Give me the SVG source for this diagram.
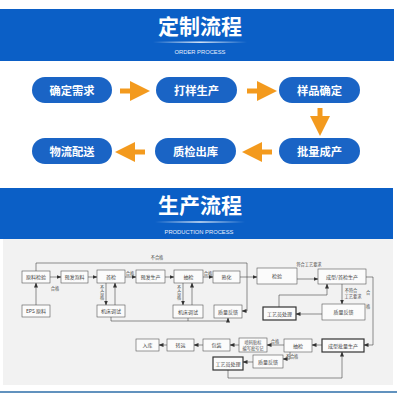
<svg xmlns="http://www.w3.org/2000/svg" width="400" height="400" viewBox="0 0 400 400">
<defs>
<linearGradient id="glow" x1="0" y1="0" x2="1" y2="0">
<stop offset="0" stop-color="#ffffff" stop-opacity="0"/>
<stop offset="0.5" stop-color="#ffffff" stop-opacity="0.9"/>
<stop offset="1" stop-color="#ffffff" stop-opacity="0"/>
</linearGradient>
<marker id="oa" viewBox="0 0 10 10" refX="5" refY="5" markerWidth="4" markerHeight="4" orient="auto"><path d="M0,0 L10,5 L0,10 z" fill="#f39a1e"/></marker>
<marker id="ka" viewBox="0 0 10 10" refX="9" refY="5" markerWidth="5" markerHeight="5" orient="auto" markerUnits="userSpaceOnUse"><path d="M0,1 L10,5 L0,9 z" fill="#333"/></marker>
<style>
.banner{fill:#0b5fc6}
.title{font-family:"Noto Sans CJK SC",sans-serif;font-weight:bold;font-size:21px;fill:#fff;text-anchor:middle}
.sub{font-family:"Liberation Sans",sans-serif;font-size:5.8px;fill:#e6eefc;text-anchor:middle}
.pill{fill:#1a64c5}
.pt{font-family:"Noto Sans CJK SC",sans-serif;font-weight:bold;font-size:11.3px;fill:#fff;text-anchor:middle}
.oarr{stroke:#f39a1e;stroke-width:5;fill:none;marker-end:url(#oa)}
.box{fill:#fbfbfb;stroke:#555;stroke-width:0.6}
.dbl{fill:#fbfbfb;stroke:#333;stroke-width:1.2}
.bt{font-family:"Noto Sans CJK SC",sans-serif;font-size:5px;fill:#444;text-anchor:middle}
.lb{font-family:"Noto Sans CJK SC",sans-serif;font-size:4.2px;fill:#444;text-anchor:middle}
.ln{stroke:#444;stroke-width:0.6;fill:none}
.la{stroke:#444;stroke-width:0.6;fill:none;marker-end:url(#ka)}
</style>
</defs>
<rect width="400" height="400" fill="#fff"/>

<g id="header-order">
<rect class="banner" x="0" y="9" width="394" height="52"/>
<text class="title" x="200" y="34">定制流程</text>
<rect x="153" y="41.5" width="94" height="1.4" fill="url(#glow)"/>
<text class="sub" x="200" y="54">ORDER PROCESS</text>
</g>

<g id="p1"><rect class="pill" x="32" y="77" width="80" height="26" rx="13"/><text class="pt" x="72" y="94.5">确定需求</text></g>
<g id="p2"><rect class="pill" x="156" y="77" width="81" height="26" rx="13"/><text class="pt" x="196.5" y="94.5">打样生产</text></g>
<g id="p3"><rect class="pill" x="279" y="77" width="81" height="26" rx="13"/><text class="pt" x="319.5" y="94.5">样品确定</text></g>
<g id="p4"><rect class="pill" x="279" y="138" width="81" height="26" rx="13"/><text class="pt" x="319.5" y="155.5">批量成产</text></g>
<g id="p5"><rect class="pill" x="155" y="138" width="81" height="26" rx="13"/><text class="pt" x="195.5" y="155.5">质检出库</text></g>
<g id="p6"><rect class="pill" x="32" y="138" width="80" height="26" rx="13"/><text class="pt" x="72" y="155.5">物流配送</text></g>

<g id="order-arrows">
<line class="oarr" x1="120" y1="91" x2="140" y2="91"/>
<line class="oarr" x1="247" y1="91" x2="267" y2="91"/>
<line class="oarr" x1="320" y1="108" x2="320" y2="126"/>
<line class="oarr" x1="272" y1="152" x2="252" y2="152"/>
<line class="oarr" x1="145" y1="152" x2="125" y2="152"/>
</g>

<g id="header-production">
<rect class="banner" x="0" y="188" width="393" height="51"/>
<text class="title" x="200" y="213">生产流程</text>
<rect x="155" y="221.3" width="90" height="1.4" fill="url(#glow)"/>
<text class="sub" x="199" y="234">PRODUCTION PROCESS</text>
</g>

<rect x="3" y="239" width="390" height="146" fill="#f2f2f2"/>
<line x1="0" y1="392" x2="397" y2="392" stroke="#2d6ea8" stroke-width="1.5"/>

<g id="connectors">
<path class="la" d="M36,305 V283"/>
<path class="la" d="M50,277 H61"/>
<path class="la" d="M88,277 H97"/>
<path class="la" d="M125,277 H136"/>
<path class="la" d="M106,283 V305"/>
<path class="la" d="M115,305 V283"/>
<path class="la" d="M165,277 H174"/>
<path class="la" d="M203,277 H213"/>
<path class="la" d="M183,283 V305"/>
<path class="la" d="M192,305 V283"/>
<path class="la" d="M240,277 H257"/>
<path class="la" d="M297,279 H318"/>
<path class="la" d="M36,271 V263 H247 V311 H242"/>
<path class="la" d="M111,317 V321 H228 V318"/>
<path class="ln" d="M188,318 V321"/>
<path class="la" d="M342,284 V304"/>
<path class="la" d="M322,314 H296"/>
<path class="la" d="M279,307 V295 H327 V284"/>
<path class="la" d="M366,277 H373 V345 H364"/>
<path class="la" d="M322,345 H312"/>
<path class="la" d="M284,345 H267"/>
<path class="la" d="M290,352 V359 H283"/>
<path class="la" d="M253,362 H243"/>
<path class="la" d="M228,370 V378 H342 V352"/>
<path class="la" d="M239,345 H230"/>
<path class="la" d="M203,345 H194"/>
<path class="la" d="M167,345 H159"/>
<text class="lb" x="55" y="290">合格</text>
<text class="lb" x="130" y="275">合格</text>
<text class="lb" x="208" y="275">合格</text>
<text class="lb" x="157" y="259">不合格</text>
<text class="lb" x="102" y="289">不</text><text class="lb" x="102" y="294">合</text><text class="lb" x="102" y="299">格</text>
<text class="lb" x="179" y="289">不</text><text class="lb" x="179" y="294">合</text><text class="lb" x="179" y="299">格</text>
<text class="lb" x="309" y="265.5">符合工艺要求</text>
<text class="lb" x="351" y="292">不符合</text>
<text class="lb" x="353" y="298">工艺要求</text>
<text class="lb" x="368" y="294">合</text><text class="lb" x="368" y="308">格</text>
<text class="lb" x="275" y="343">合格</text>
<text class="lb" x="292" y="357.5">不合格</text>
</g>

<g id="n1"><rect class="box" x="22" y="271" width="28" height="12"/><text class="bt" x="36" y="279">原料检验</text></g>
<g id="n2"><rect class="box" x="61" y="271" width="27" height="12"/><text class="bt" x="74.5" y="279">预发泡料</text></g>
<g id="n3"><rect class="box" x="97" y="270" width="28" height="13"/><text class="bt" x="111" y="278.5">首检</text></g>
<g id="n4"><rect class="box" x="136" y="270" width="29" height="13"/><text class="bt" x="150.5" y="278.5">预发生产</text></g>
<g id="n5"><rect class="box" x="174" y="270" width="29" height="13"/><text class="bt" x="188.5" y="278.5">抽检</text></g>
<g id="n6"><rect class="box" x="213" y="271" width="27" height="12"/><text class="bt" x="226.5" y="279">熟化</text></g>
<g id="n7"><rect class="box" x="257" y="268" width="40" height="16"/><text class="bt" x="277" y="278">检验</text></g>
<g id="n8"><rect class="box" x="318" y="269" width="48" height="15"/><text class="bt" x="342" y="278.5">成型/首检生产</text></g>
<g id="n9"><rect class="box" x="22" y="305" width="28" height="12"/><text class="bt" x="36" y="313">EPS 原料</text></g>
<g id="n10"><rect class="box" x="97" y="305" width="28" height="12"/><text class="bt" x="111" y="313">机床调试</text></g>
<g id="n11"><rect class="box" x="173" y="305" width="30" height="13"/><text class="bt" x="188" y="313.5">机床调试</text></g>
<g id="n12"><rect class="box" x="214" y="305" width="28" height="13"/><text class="bt" x="228" y="313.5">质量反馈</text></g>
<g id="n13"><rect class="dbl" x="263" y="307" width="33" height="13"/><text class="bt" x="279.5" y="315.5">工艺员处理</text></g>
<g id="n14"><rect class="box" x="322" y="304" width="43" height="16"/><text class="bt" x="343.5" y="314">质量反馈</text></g>
<g id="n15"><rect class="dbl" x="322" y="339" width="42" height="13"/><text class="bt" x="343" y="347.5">成型批量生产</text></g>
<g id="n16"><rect class="box" x="284" y="339" width="28" height="13"/><text class="bt" x="298" y="347.5">抽检</text></g>
<g id="n17"><rect class="box" x="239" y="338" width="28" height="14"/><text class="lb" x="253" y="344">喷码贴标</text><text class="lb" x="253" y="349.5">编写批号记</text></g>
<g id="n18"><rect class="box" x="203" y="339" width="27" height="12"/><text class="bt" x="216.5" y="347">包装</text></g>
<g id="n19"><rect class="box" x="167" y="339" width="27" height="12"/><text class="bt" x="180.5" y="347">转运</text></g>
<g id="n20"><rect class="box" x="136" y="339" width="23" height="12"/><text class="bt" x="147.5" y="347">入库</text></g>
<g id="n21"><rect class="box" x="253" y="355" width="30" height="13"/><text class="bt" x="268" y="363.5">质量反馈</text></g>
<g id="n22"><rect class="dbl" x="213" y="357" width="30" height="13"/><text class="bt" x="228" y="365.5">工艺员处理</text></g>
</svg>
